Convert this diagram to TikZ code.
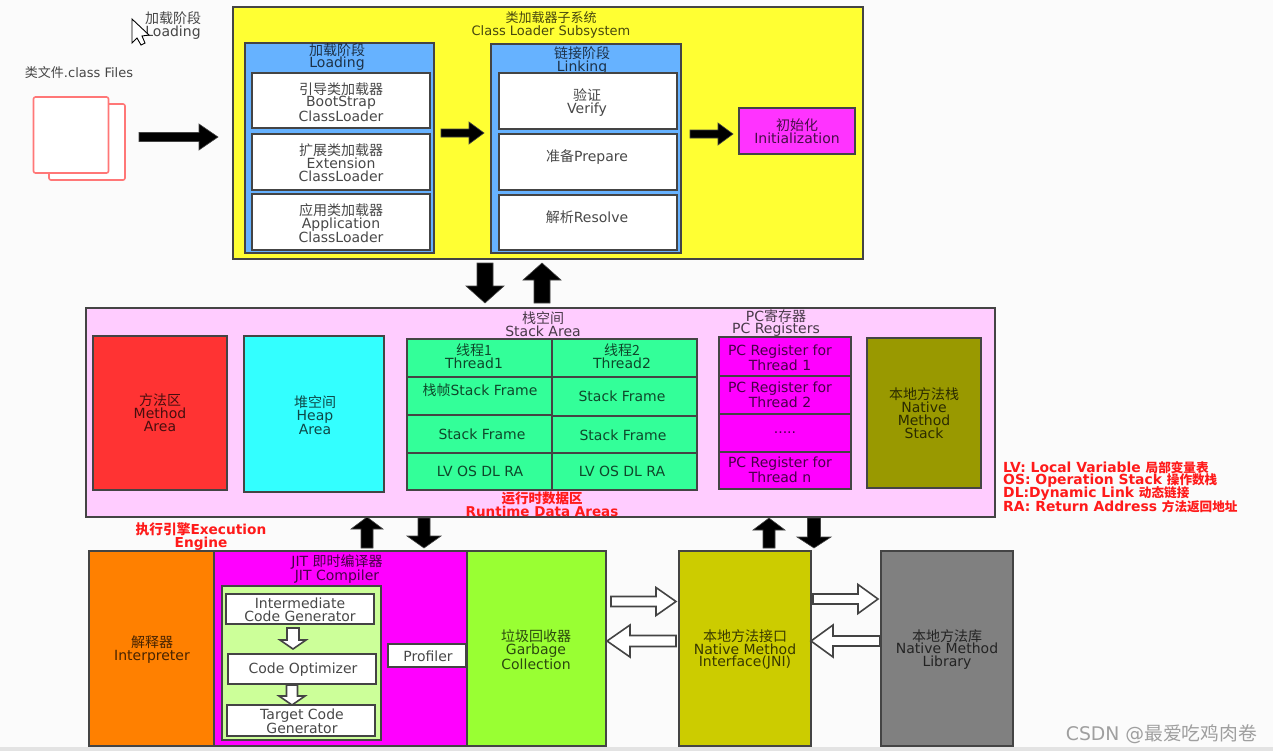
\documentclass[tikz,border=0pt]{standalone}
\usepackage{fontspec}
\setmainfont{DejaVu Sans}
\newfontfamily\cjk{Noto Sans CJK SC}
\usetikzlibrary{calc}
\newcommand{\Z}[1]{{\cjk #1}}
\newcommand{\ZL}[1]{{\cjk\fontsize{12.6}{13}\selectfont #1}}
\definecolor{edge}{HTML}{444444}
\definecolor{pagebg}{HTML}{FBFBFB}
\definecolor{pink}{HTML}{FF7777}
\definecolor{yel}{HTML}{FFFF33}
\definecolor{blu}{HTML}{66B2FF}
\definecolor{mag}{HTML}{FF33FF}
\definecolor{mag2}{HTML}{FF00FF}
\definecolor{lilac}{HTML}{FFCCFF}
\definecolor{redb}{HTML}{FF3333}
\definecolor{cyanb}{HTML}{33FFFF}
\definecolor{mint}{HTML}{33FF99}
\definecolor{olive2}{HTML}{999900}
\definecolor{orangeb}{HTML}{FF8000}
\definecolor{limeb}{HTML}{CCFF99}
\definecolor{gcg}{HTML}{99FF33}
\definecolor{jni}{HTML}{CCCC00}
\definecolor{libg}{HTML}{808080}
\definecolor{redt}{HTML}{FF1A1A}
\tikzset{
  bxs/.style={draw=edge,line width=2pt,rectangle,inner sep=0pt,outer sep=0pt},
  lab/.style={inner sep=0pt,align=center,text=black,text opacity=.72,font=\fontsize{14}{12.9}\selectfont},
  smalllab/.style={lab,font=\fontsize{13}{12.9}\selectfont},
  redlab/.style={inner sep=0pt,align=center,text=redt,font=\bfseries\fontsize{13.5}{13}\selectfont},
  legend/.style={inner sep=0pt,anchor=west,text=redt,font=\bfseries\fontsize{13.9}{13}\selectfont},
  fatblack/.style={fill=black,draw=edge,line width=.6pt},
  hollow/.style={fill=white,draw=edge,line width=1.6pt},
  filepage/.style={draw=pink,fill=white,line width=1.6pt,rounded corners=2pt,rectangle,inner sep=0pt},
}
% name x1 y1 x2 y2 style
\newcommand{\bx}[6]{\node[bxs,#6,minimum width={(#4)-(#2)},minimum height={(#5)-(#3)}] (#1) at ({((#2)+(#4))/2},{((#3)+(#5))/2}) {};}
% name x y text
\newcommand{\tx}[4]{\node[lab] (#1) at (#2,#3) {#4};}
% name style x1 y1 x2 y2 halfshaft halfhead headlen
\newcommand{\ba}[9]{%
  \coordinate (#1a) at (#3,#4);
  \coordinate (#1b) at (#5,#6);
  \coordinate (#1h) at ($(#1b)!#9pt!(#1a)$);
  \draw[#2] ($(#1a)!#7pt!90:(#1b)$) -- ($(#1h)!#7pt!90:(#1b)$) -- ($(#1h)!#8pt!90:(#1b)$) -- (#1b)
     -- ($(#1h)!#8pt!-90:(#1b)$) -- ($(#1h)!#7pt!-90:(#1b)$) -- ($(#1a)!#7pt!-90:(#1b)$) -- cycle;
}
\begin{document}
\begin{tikzpicture}[x=1pt,y=-1pt]
\useasboundingbox (0,0) rectangle (1273,753);
\fill[pagebg] (0,0) rectangle (1273,753);
\fill[gray!22] (0,747) rectangle (1273,751);
\fill[white] (0,751) rectangle (1273,753);

% cursor and its label
\tx{loadtitle}{173}{25.5}{\Z{加载阶段}\\Loading}
\draw[fill=white,draw=black,line width=.9pt] (132,19) -- (132,43) -- (137,38) -- (141,45) -- (145,43) -- (142,36) -- (149,35) -- cycle;

% files
\node[smalllab] (filelab) at (79,73) {\Z{类文件}.class Files};
\node[filepage,minimum width=76,minimum height=76] (fileback) at (87,142) {};
\node[filepage,minimum width=75,minimum height=76] (filefront) at (71,135) {};
\ba{af}{fatblack}{139}{137}{218}{137}{4.5}{13}{19}

% class loader subsystem
\bx{cls}{233}{7}{863}{259}{fill=yel}
\node[smalllab] (clst) at (551,25) {\Z{类加载器子系统}\\Class Loader Subsystem};
\bx{load}{245}{43}{434}{253}{fill=blu}
\tx{loadt}{337}{57}{\Z{加载阶段}\\Loading}
\bx{l1}{252}{73}{430}{128}{fill=white}
\bx{l2}{252}{134}{430}{190}{fill=white}
\bx{l3}{252}{194}{430}{250}{fill=white}
\tx{l1t}{341}{102}{\Z{引导类加载器}\\BootStrap\\ClassLoader}
\tx{l2t}{341}{163}{\Z{扩展类加载器}\\Extension\\ClassLoader}
\tx{l3t}{341}{223}{\Z{应用类加载器}\\Application\\ClassLoader}
\bx{link}{491}{44}{681}{253}{fill=blu}
\tx{linkt}{582}{60.5}{\Z{链接阶段}\\Linking}
\bx{k1}{499}{73}{677}{129}{fill=white}
\bx{k2}{499}{134}{677}{190}{fill=white}
\bx{k3}{499}{195}{677}{250}{fill=white}
\tx{k1t}{587}{102.5}{\Z{验证}\\Verify}
\tx{k2t}{587}{157}{\Z{准备}Prepare}
\tx{k3t}{587}{217}{\Z{解析}Resolve}
\bx{init}{739}{108}{855}{154}{fill=mag}
\tx{initt}{797}{131}{\Z{初始化}\\Initialization}
\ba{a1}{fatblack}{441}{133}{484}{133}{4}{11}{15}
\ba{a2}{fatblack}{690}{134}{733}{134}{4}{11}{15}
\ba{a3}{fatblack}{485}{263}{485}{303}{8}{19}{17}
\ba{a4}{fatblack}{542}{303}{542}{263}{8}{19}{17}

% runtime data areas
\bx{rt}{86}{308}{995}{517}{fill=lilac}
\tx{stackt}{543}{324}{\Z{栈空间}\\Stack Area}
\tx{pct}{776}{323}{PC\Z{寄存器}\\PC Registers}
\bx{method}{93}{336}{227}{490}{fill=redb}
\tx{methodt}{160}{413}{\Z{方法区}\\Method\\Area}
\bx{heap}{244}{336}{384}{492}{fill=cyanb}
\tx{heapt}{315}{415}{\Z{堆空间}\\Heap\\Area}
\bx{s11}{407}{339}{552}{377}{fill=mint}
\bx{s12}{407}{377}{552}{415}{fill=mint}
\bx{s13}{407}{415}{552}{453}{fill=mint}
\bx{s14}{407}{453}{552}{490}{fill=mint}
\bx{s21}{552}{339}{697}{377}{fill=mint}
\bx{s22}{552}{377}{697}{416}{fill=mint}
\bx{s23}{552}{416}{697}{453}{fill=mint}
\bx{s24}{552}{453}{697}{490}{fill=mint}
\tx{s11t}{474}{356.5}{\Z{线程1}\\Thread1}
\tx{s21t}{622}{356.5}{\Z{线程2}\\Thread2}
\tx{s12t}{480}{390}{\Z{栈帧}Stack Frame}
\tx{s22t}{622}{396}{Stack Frame}
\tx{s13t}{482}{434}{Stack Frame}
\tx{s23t}{623}{435}{Stack Frame}
\tx{s14t}{480}{471}{LV OS DL RA}
\tx{s24t}{622}{471}{LV OS DL RA}
\bx{p1}{719}{337}{851}{376}{fill=mag2}
\bx{p2}{719}{376}{851}{414}{fill=mag2}
\bx{p3}{719}{414}{851}{452}{fill=mag2}
\bx{p4}{719}{452}{851}{489}{fill=mag2}
\tx{p1t}{780}{357.5}{PC Register for\\Thread 1}
\tx{p2t}{780}{394.5}{PC Register for\\Thread 2}
\tx{p3t}{785}{433}{.....}
\tx{p4t}{780}{469.5}{PC Register for\\Thread n}
\bx{nstack}{867}{338}{981}{488}{fill=olive2}
\tx{nstackt}{924}{413.5}{\Z{本地方法栈}\\Native\\Method\\Stack}
\node[redlab] (rtt) at (542,504.5) {\Z{运行时数据区}\\Runtime Data Areas};
\node[legend] (lg1) at (1003,468) {LV: Local Variable \ZL{局部变量表}};
\node[legend] (lg2) at (1003,481) {OS: Operation Stack \ZL{操作数栈}};
\node[legend] (lg3) at (1003,494) {DL:Dynamic Link \ZL{动态链接}};
\node[legend] (lg4) at (1003,507) {RA: Return Address \ZL{方法返回地址}};
\node[redlab,font=\bfseries\fontsize{13.7}{13}\selectfont] (exect) at (201,536.5) {\Z{执行引擎}Execution\\Engine};

% execution engine
\bx{interp}{89}{551}{214}{746}{fill=orangeb}
\tx{interpt}{152}{649.5}{\Z{解释器}\\Interpreter}
\bx{jit}{214}{551}{467}{746}{fill=mag2}
\tx{jitt}{337}{569}{JIT \Z{即时编译器}\\JIT Compiler}
\bx{jitg}{222}{586}{381}{740}{fill=limeb}
\bx{j1}{226}{594}{374}{624}{fill=white}
\bx{j2}{228}{654}{376}{684}{fill=white}
\bx{j3}{227}{705}{375}{736}{fill=white}
\tx{j1t}{300}{609.5}{Intermediate\\Code Generator}
\tx{j2t}{303}{670}{Code Optimizer}
\tx{j3t}{302}{721.5}{Target Code\\Generator}
\ba{h1}{hollow}{293}{628}{293}{649}{6}{13}{9}
\ba{h2}{hollow}{292}{685}{292}{705}{5.5}{13}{9}
\bx{prof}{388}{644}{466}{667}{fill=white}
\tx{proft}{428}{656}{Profiler}
\bx{gc}{467}{551}{606}{746}{fill=gcg}
\tx{gct}{536}{649.5}{\Z{垃圾回收器}\\Garbage\\Collection}
\bx{jnib}{679}{551}{811}{746}{fill=jni}
\tx{jnit}{745}{649.5}{\Z{本地方法接口}\\Native Method\\Interface(JNI)}
\bx{lib}{881}{551}{1013}{746}{fill=libg}
\tx{libt}{947}{649.5}{\Z{本地方法库}\\Native Method\\Library}
\ba{b1}{fatblack}{367}{548}{367}{517}{6}{16}{12}
\ba{b2}{fatblack}{424}{518}{424}{548}{6}{17}{12}
\ba{b3}{fatblack}{769}{548}{769}{518}{6}{16}{12}
\ba{b4}{fatblack}{814}{518}{814}{548}{6.5}{17}{11}
\ba{c1}{hollow}{611}{601.5}{676}{601.5}{5}{14}{20}
\ba{c2}{hollow}{676}{641}{607}{641}{5.5}{16}{23}
\ba{c3}{hollow}{813}{599}{878}{599}{5}{14.5}{20}
\ba{c4}{hollow}{880}{641}{811}{641}{5}{16}{22}

% watermark
\node[inner sep=0pt,text=gray!75,font=\fontsize{18.8}{18}\selectfont] (wm) at (1161.5,734) {CSDN @\Z{最爱吃鸡肉卷}};
\end{tikzpicture}
\end{document}
